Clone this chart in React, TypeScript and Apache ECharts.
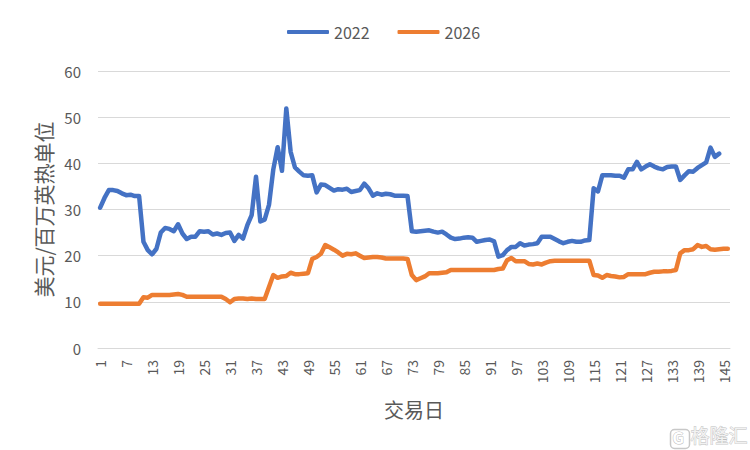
import React, { useEffect, useRef } from "react";
import * as echarts from "echarts";

const seriesNames = ["2022", "2026"];

const tradingDays: string[] = Array.from({ length: 146 }, (_, i) => String(i + 1));

const price2022 = [
  30.4, 32.5, 34.2, 34.2, 34.0, 33.5, 33.1, 33.2, 32.9, 32.9,
  23.0, 21.2, 20.3, 21.5, 25.0, 26.0, 25.8, 25.3, 26.8, 24.8,
  23.6, 24.1, 24.1, 25.3, 25.2, 25.3, 24.6, 24.8, 24.5, 24.9,
  25.0, 23.2, 24.5, 23.7, 26.6, 28.8, 37.1, 27.4, 27.8, 31.0,
  38.7, 43.5, 38.4, 51.9, 42.5, 39.1, 38.2, 37.4, 37.3, 37.4,
  33.7, 35.4, 35.3, 34.7, 34.1, 34.4, 34.3, 34.5, 33.8, 34.0,
  34.2, 35.6, 34.6, 33.0, 33.5, 33.2, 33.4, 33.3, 33.0, 33.0,
  33.0, 32.9, 25.3, 25.2, 25.3, 25.4, 25.5, 25.2, 25.0, 25.2,
  24.6, 23.9, 23.6, 23.7, 23.9, 24.0, 23.9, 23.0, 23.2, 23.4,
  23.5, 23.1, 19.8, 20.1, 21.2, 21.9, 21.9, 22.7, 22.2, 22.4,
  22.5, 22.7, 24.1, 24.1, 24.1, 23.6, 23.1, 22.7, 23.0, 23.2,
  23.0, 23.0, 23.3, 23.4, 34.6, 33.9, 37.4, 37.4, 37.4, 37.3,
  37.3, 36.9, 38.7, 38.7, 40.3, 38.7, 39.3, 39.8, 39.3, 38.9,
  38.7, 39.2, 39.3, 39.3, 36.4, 37.4, 38.3, 38.2, 39.0, 39.6,
  40.2, 43.4, 41.4, 42.1,
];

const price2026 = [
  9.6, 9.6, 9.6, 9.6, 9.6, 9.6, 9.6, 9.6, 9.6, 9.6,
  11.0, 10.9, 11.5, 11.5, 11.5, 11.5, 11.5, 11.6, 11.7, 11.5,
  11.1, 11.1, 11.1, 11.1, 11.1, 11.1, 11.1, 11.1, 11.1, 10.6,
  9.9, 10.6, 10.7, 10.7, 10.6, 10.7, 10.6, 10.6, 10.6, 13.2,
  15.8, 15.2, 15.5, 15.6, 16.3, 16.0, 16.0, 16.1, 16.2, 19.3,
  19.7, 20.4, 22.3, 21.8, 21.3, 20.7, 20.0, 20.4, 20.3, 20.5,
  20.0, 19.5, 19.6, 19.7, 19.7, 19.6, 19.4, 19.4, 19.4, 19.4,
  19.4, 19.3, 15.8, 14.7, 15.1, 15.5, 16.2, 16.2, 16.2, 16.3,
  16.4, 16.9, 16.9, 16.9, 16.9, 16.9, 16.9, 16.9, 16.9, 16.9,
  16.9, 16.9, 17.1, 17.2, 19.0, 19.5, 18.8, 18.8, 18.8, 18.2,
  18.1, 18.3, 18.1, 18.5, 18.8, 18.9, 18.9, 18.9, 18.9, 18.9,
  18.9, 18.9, 18.9, 18.9, 15.8, 15.7, 15.2, 15.8, 15.6, 15.5,
  15.3, 15.4, 16.0, 16.0, 16.0, 16.0, 16.0, 16.3, 16.5, 16.5,
  16.6, 16.6, 16.7, 16.9, 20.5, 21.2, 21.2, 21.4, 22.3, 21.9,
  22.1, 21.4, 21.3, 21.4, 21.5, 21.5,
];

const yAxisName = "美元/百万英热单位";
const xAxisName = "交易日";
const watermark = "格隆汇";

const FONT = "'Noto Sans CJK SC', 'Noto Sans', sans-serif";
const TEXT = "#595959";

export default function App() {
  const ref = useRef<HTMLDivElement>(null);

  useEffect(() => {
    document.body.style.margin = "0";
    if (!ref.current) return;
    const chart = echarts.init(ref.current, null, { renderer: "svg" });
    chart.setOption({
      animation: false,
      backgroundColor: "#ffffff",
      textStyle: { fontFamily: FONT },
      color: ["#4472C4", "#ED7D31"],
      legend: {
        top: 19,
        left: 282,
        icon: "roundRect",
        itemWidth: 42,
        itemHeight: 4,
        itemGap: 28,
        textStyle: { color: TEXT, fontSize: 16, fontFamily: FONT },
        data: seriesNames,
      },
      grid: { left: 98, right: 20, top: 71, bottom: 102 },
      xAxis: {
        type: "category",
        data: tradingDays,
        boundaryGap: true,
        name: xAxisName,
        nameLocation: "middle",
        nameGap: 51,
        nameTextStyle: { color: TEXT, fontSize: 20, fontFamily: FONT },
        axisLine: { show: true, lineStyle: { color: "#D9D9D9", width: 1 } },
        axisTick: { show: false },
        axisLabel: {
          interval: 5,
          rotate: 90,
          color: TEXT,
          fontSize: 14,
          margin: 12,
          fontFamily: FONT,
        },
      },
      yAxis: {
        type: "value",
        min: 0,
        max: 60,
        interval: 10,
        name: yAxisName,
        nameLocation: "middle",
        nameRotate: 90,
        nameGap: 41,
        nameTextStyle: { color: TEXT, fontSize: 21, fontFamily: FONT },
        axisLine: { show: false },
        axisTick: { show: false },
        axisLabel: { color: TEXT, fontSize: 15, margin: 17, fontFamily: FONT },
        splitLine: { lineStyle: { color: "#D9D9D9", width: 1 } },
      },
      series: [
        {
          name: seriesNames[0],
          type: "line",
          data: price2022,
          symbol: "none",
          lineStyle: { width: 4.5, join: "round", cap: "round" },
        },
        {
          name: seriesNames[1],
          type: "line",
          data: price2026,
          symbol: "none",
          lineStyle: { width: 4.5, join: "round", cap: "round" },
        },
      ],
      graphic: [
        {
          type: "rect",
          left: 668,
          top: 427,
          shape: { width: 19, height: 19, r: 4 },
          style: { fill: "none", stroke: "#c8c8c8", lineWidth: 1.5 },
          silent: true,
        },
        {
          type: "text",
          left: 672,
          top: 428,
          style: {
            text: "G",
            fill: "#ffffff",
            stroke: "#c0c0c0",
            lineWidth: 1,
            fontSize: 16,
            fontWeight: "bold",
            fontFamily: FONT,
          },
          silent: true,
        },
        {
          type: "text",
          left: 690,
          top: 425,
          style: {
            text: watermark,
            fill: "#f2f2f2",
            stroke: "#bdbdbd",
            lineWidth: 0.8,
            fontSize: 19,
            fontFamily: FONT,
          },
          silent: true,
        },
      ],
    });
    return () => chart.dispose();
  }, []);

  return <div ref={ref} style={{ width: 750, height: 450 }} />;
}
